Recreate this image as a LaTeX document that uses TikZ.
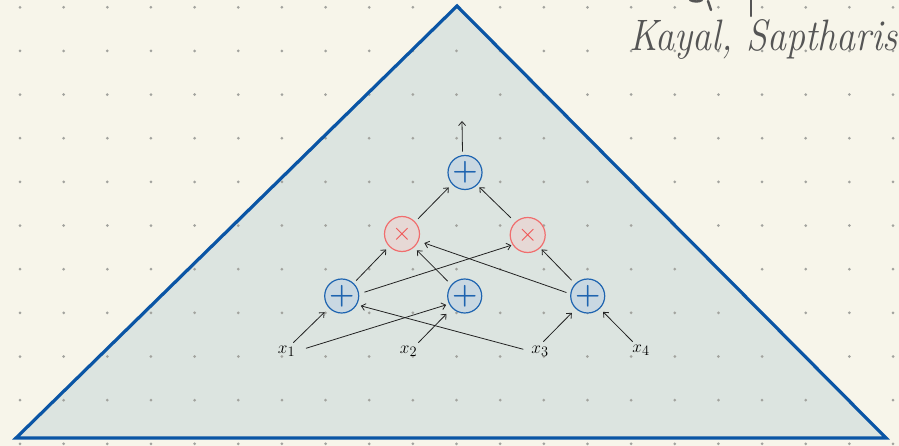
\documentclass[tikz,border=0pt]{standalone}
\usetikzlibrary{arrows.meta,calc}
\definecolor{paper}{HTML}{F7F5EA}
\definecolor{trifill}{HTML}{DCE4E0}
\definecolor{triblue}{HTML}{0A55A5}
\definecolor{dotgrey}{HTML}{A2A39E}
\definecolor{pfill}{HTML}{C9D8E2}
\definecolor{pline}{HTML}{1E64B0}
\definecolor{tfill}{HTML}{E6D8D5}
\definecolor{tline}{HTML}{F06E6E}
\definecolor{tmark}{HTML}{F05050}
\definecolor{ink}{HTML}{555555}
\definecolor{wire}{HTML}{222222}
\tikzset{
  plusgate/.style={circle, draw=pline, fill=pfill, line width=1.2pt,
    minimum size=34pt, inner sep=0pt, text=pline,
    font=\fontsize{29}{29}\selectfont\bfseries},
  timesgate/.style={circle, draw=tline, fill=tfill, line width=1.2pt,
    minimum size=35pt, inner sep=0pt, text=tmark,
    font=\fontsize{29}{29}\selectfont},
  varlabel/.style={inner sep=0pt, font=\fontsize{19}{19}\selectfont},
  wirearrow/.style={draw=wire, line width=0.8pt,
    -{Straight Barb[length=4pt,width=7pt]}},
  triline/.style={draw=triblue, line width=3.2pt, line join=miter},
  handstroke/.style={draw=ink, line width=2.4pt, line cap=round}
}
\begin{document}
\begin{tikzpicture}[x=1pt,y=-1pt]
\useasboundingbox (0,0) rectangle (899,446);
\fill[paper] (0,0) rectangle (899,446);
\begin{scope}
\clip (0,0) rectangle (899,446);

% big triangle
\coordinate (apex) at (457,6);
\coordinate (bl) at (16,438);
\coordinate (br) at (886,438);
\fill[trifill] (apex) -- (br) -- (bl) -- cycle;

% dotted grid
\foreach \i in {0,...,20}
  \foreach \j in {0,...,10}
    \fill[dotgrey] (20+\i*43.65, 7.3+\j*43.65) circle (1.5);

\draw[triline] (apex) -- (br) -- (bl) -- cycle;

% handwritten note, top right
\node[anchor=base west, inner sep=0pt, text=ink,
      font=\fontsize{40}{40}\selectfont\itshape] (note) at (629,51)
      {\scalebox{0.95}[1.1]{Kayal, Saptharis}};
\draw[handstroke] (690,0) .. controls (694,2) and (699,2) .. (702,0);
\draw[handstroke] (708,1) -- (711,10);
\draw[handstroke] (751,0) -- (751,16);

% gates
\node[plusgate]  (T) at (465,172.5) {+};
\node[timesgate] (L) at (402,234) {$\times$};
\node[timesgate] (R) at (527.7,235) {$\times$};
\node[plusgate]  (A) at (341.7,296) {+};
\node[plusgate]  (B) at (464.7,296) {+};
\node[plusgate]  (C) at (587.7,296) {+};

% inputs
\node[varlabel] (X1) at (286.5,351) {$x_1$};
\node[varlabel] (X2) at (408.5,351) {$x_2$};
\node[varlabel] (X3) at (540,351.5) {$x_3$};
\node[varlabel] (X4) at (641,350.5) {$x_4$};

\coordinate (out) at (462,121);

% wires
\draw[wirearrow, shorten <=3.5pt] (T.98) -- (out);
\draw[wirearrow, shorten <=4pt, shorten >=4.5pt] (L.43) -- (T.222);
\draw[wirearrow, shorten <=6pt, shorten >=3pt] (R.134) -- (T.314);
\draw[wirearrow, shorten <=3.5pt, shorten >=4pt] (A.47) -- (L.224);
\draw[wirearrow, shorten <=5pt, shorten >=4pt] (B.140) -- (L.312);
\draw[wirearrow, shorten <=5.5pt, shorten >=1.3pt] (A.7) -- (R.213);
\draw[wirearrow, shorten <=4pt, shorten >=6pt] (C.173) -- (L.337);
\draw[wirearrow, shorten <=5pt, shorten >=2pt] (C.136) -- (R.314);

\draw[wirearrow, shorten >=6pt] ($(X1)+(6.8,-8.3)$) -- (A.223);
\draw[wirearrow, shorten >=3pt] ($(X1)+(19.5,-2.7)$) -- (B.207);
\draw[wirearrow, shorten >=8pt] ($(X2)+(9.8,-8.3)$) -- (B.224);
\draw[wirearrow, shorten >=4pt] ($(X3)+(-16.7,-2.2)$) -- (A.-30);
\draw[wirearrow, shorten >=5.5pt] ($(X3)+(3.3,-9.8)$) -- (C.227);
\draw[wirearrow, shorten >=4.5pt] ($(X4)+(-8.3,-8.8)$) -- (C.-46);
\end{scope}
\end{tikzpicture}
\end{document}
